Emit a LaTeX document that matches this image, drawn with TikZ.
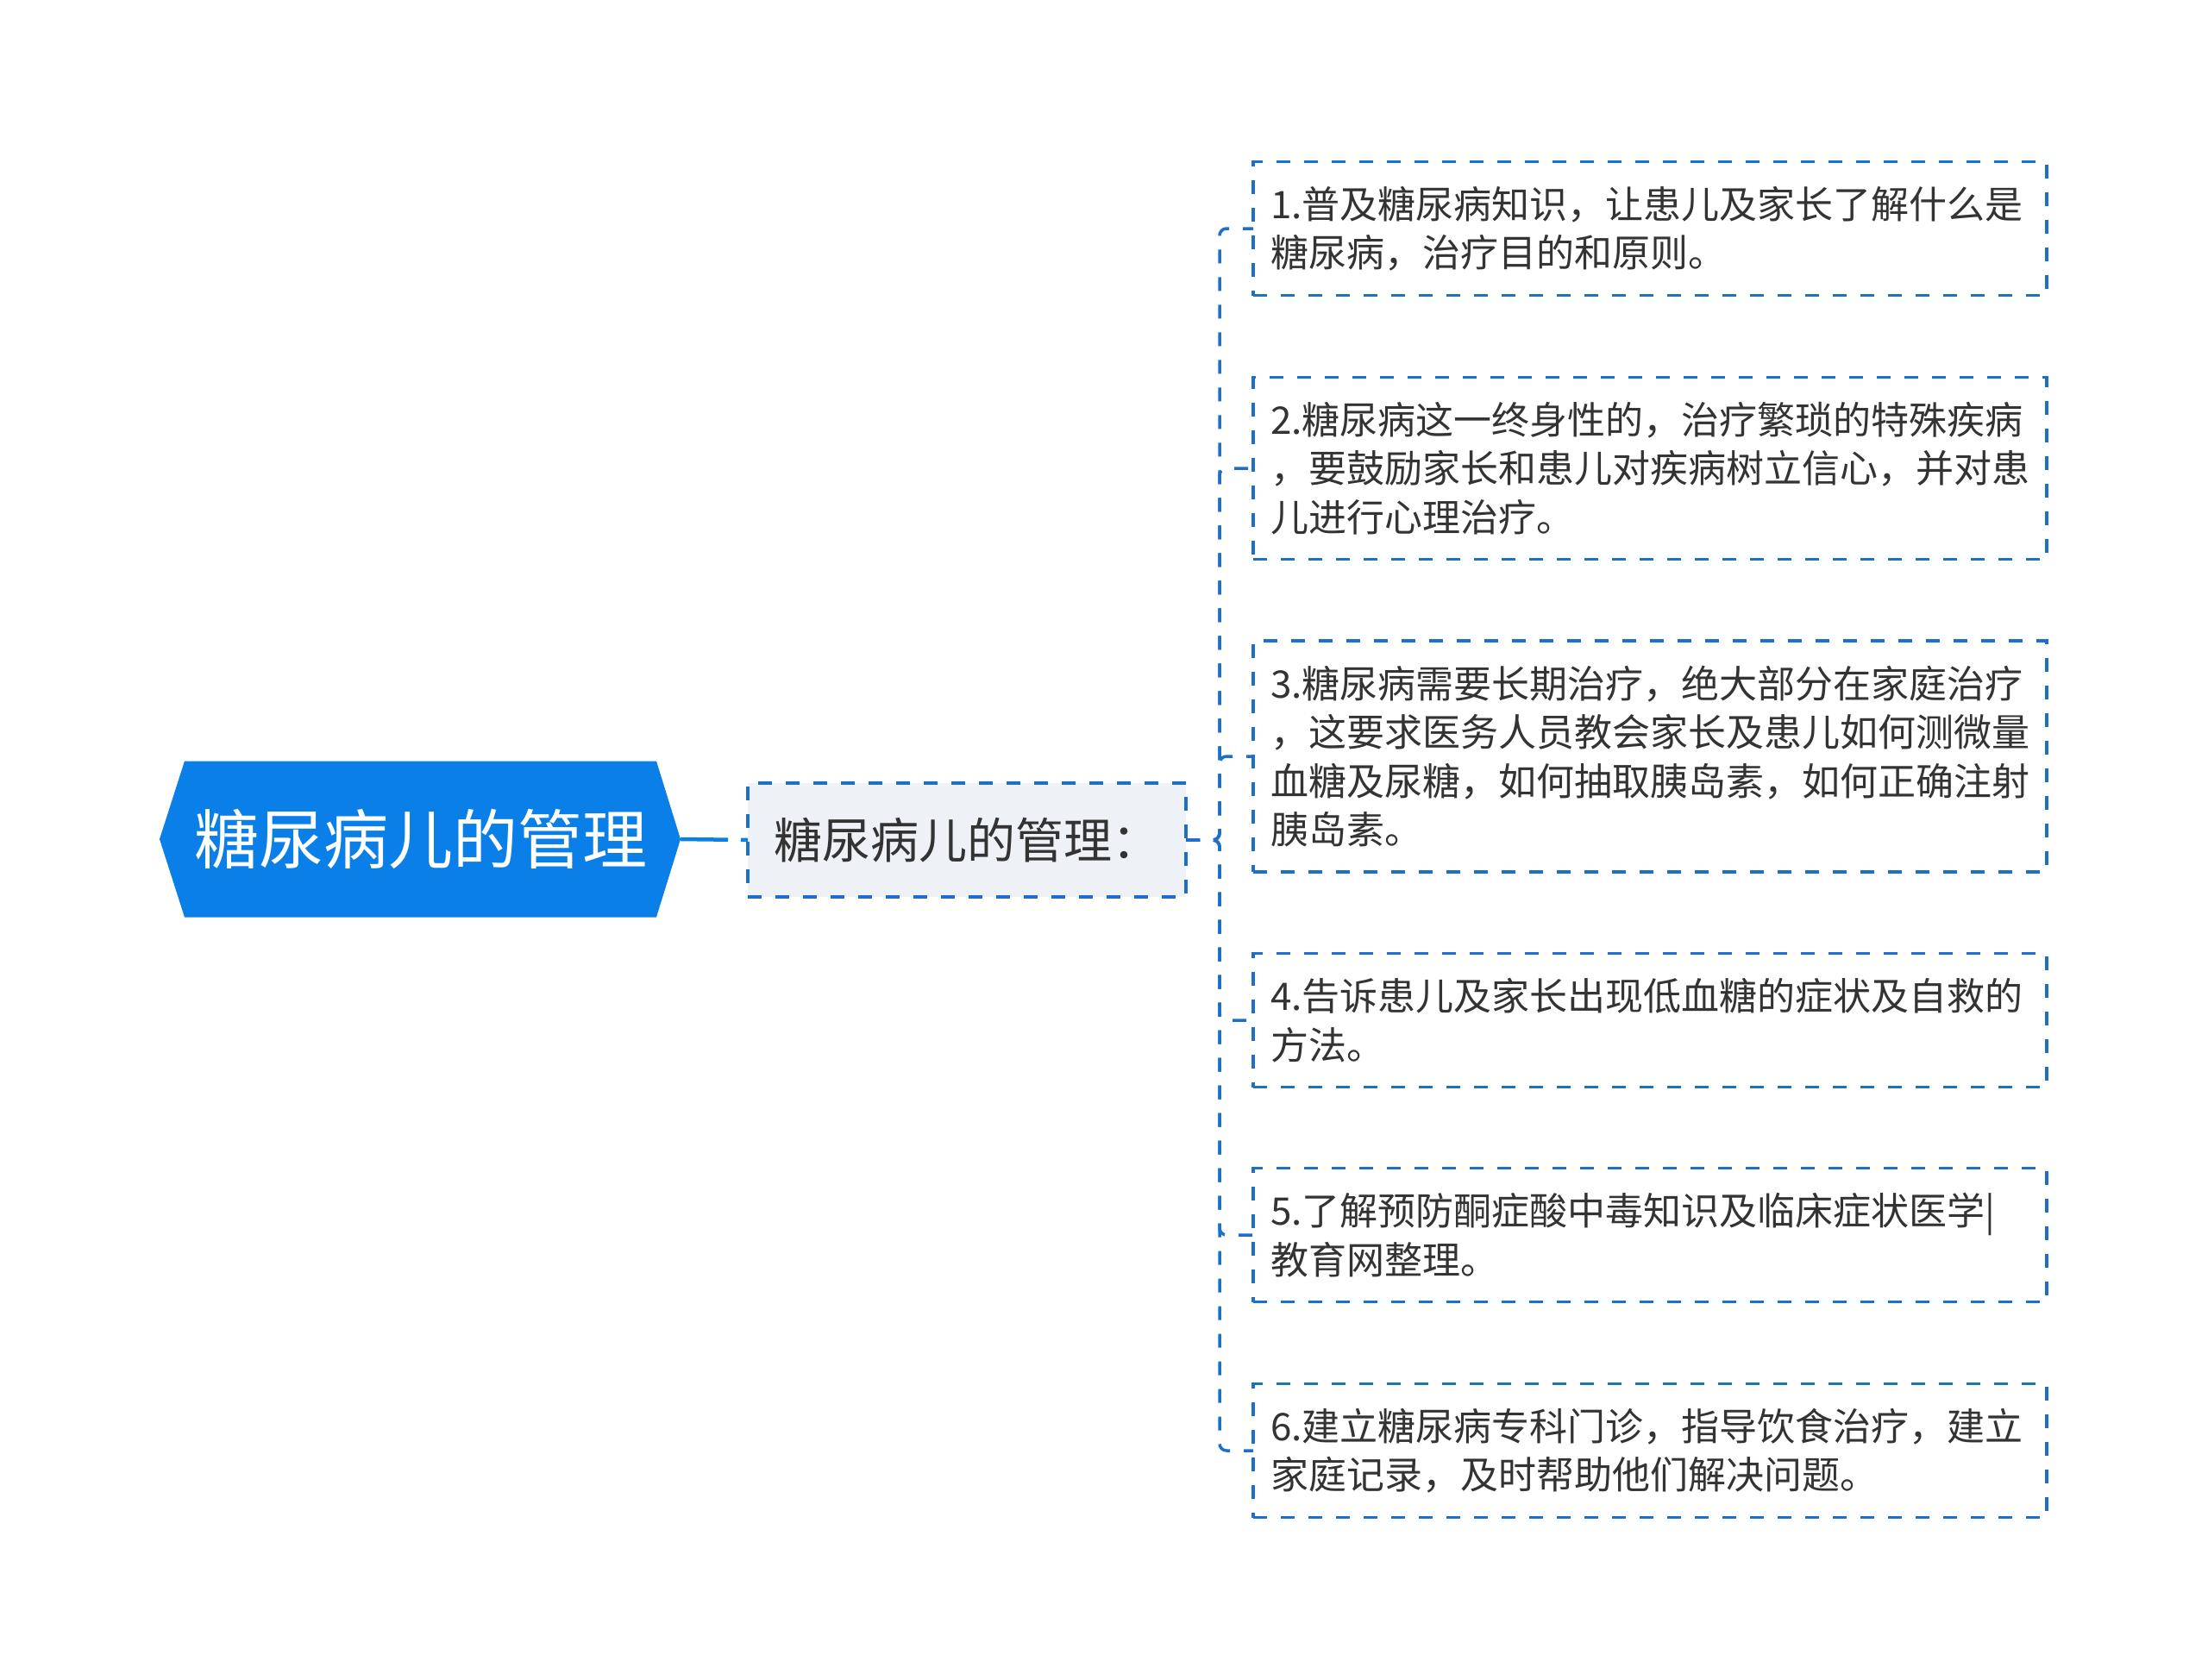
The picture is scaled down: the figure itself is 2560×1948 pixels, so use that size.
\documentclass[tikz,border=0pt]{standalone}
\usepackage{fontspec}
\setmainfont{Noto Sans CJK SC}
\usetikzlibrary{calc}
\usetikzlibrary{backgrounds}
\definecolor{rootblue}{HTML}{0B7FE8}
\definecolor{linkblue}{HTML}{1D6FCB}
\definecolor{subgray}{HTML}{EEF1F5}
\definecolor{txtgray}{HTML}{333333}

\begin{document}
\begin{tikzpicture}[x=1pt, y=-1pt,
    dashline/.style={line width=3.5pt, dash pattern=on 16pt off 16pt},
    leaf/.style={dashline, draw=linkblue, text=txtgray, anchor=west, outer sep=0pt, inner xsep=20pt, inner ysep=0pt, text width=880pt, align=left, font=\fontsize{44}{56.5}\selectfont},
    link/.style={dashline, draw=linkblue, rounded corners=8pt}]
      \useasboundingbox (0,0) rectangle (2560,1948);
      \node[text=white, inner sep=0pt, outer sep=0pt, minimum width=547pt, minimum height=181pt, font=\fontsize{75}{90}\selectfont] (root) at (487.5,973) {糖尿病儿的管理};
      \coordinate (tip) at ($(root.east)+(28,0)$);
      \begin{scope}[on background layer]
        \fill[white] (0,0) rectangle (2560,1948);
        \fill[rootblue] (root.north west) -- (root.north east) -- (tip) -- (root.south east) -- (root.south west) -- ($(root.west)+(-29,0)$) -- cycle;
      \end{scope}

      \node[dashline, draw=linkblue, fill=subgray, text=txtgray, anchor=west, outer sep=0pt, minimum height=132pt, inner xsep=30pt, text width=448pt, align=left, font=\fontsize{56}{66}\selectfont] (sub) at (867,974) {糖尿病儿的管理：};

      \node[leaf, minimum height=155pt] (1) at (1453,265) {1.普及糖尿病知识，让患儿及家长了解什么是\\糖尿病，治疗目的和原则。};
      \node[leaf, minimum height=211pt] (2) at (1453,543) {2.糖尿病这一终身性的，治疗繁琐的特殊疾病\\，要鼓励家长和患儿对疾病树立信心，并对患\\儿进行心理治疗。};
      \node[leaf, minimum height=268pt] (3) at (1453,877) {3.糖尿病需要长期治疗，绝大部分在家庭治疗\\，这要求医务人员教会家长及患儿如何测微量\\血糖及尿糖，如何抽取胰岛素，如何正确注射\\胰岛素。};
      \node[leaf, minimum height=155pt] (4) at (1453,1183) {4.告诉患儿及家长出现低血糖的症状及自救的\\方法。};
      \node[leaf, minimum height=155pt] (5) at (1453,1432) {5.了解预防酮症酸中毒知识及临床症状医学|\\教育网整理。};
      \node[leaf, minimum height=155pt] (6) at (1453,1682) {6.建立糖尿病专科门诊，指导饮食治疗，建立\\家庭记录，及时帮助他们解决问题。};

      \coordinate (bus) at (1414,974);
      \draw[rootblue, line width=4.5pt, dash pattern=on 55pt off 15pt] (tip) -- (sub.west);
      \foreach \i in {1,...,6}
        \draw[link] (sub.east) -- (bus) |- (\i.west);
    \end{tikzpicture}
\end{document}
